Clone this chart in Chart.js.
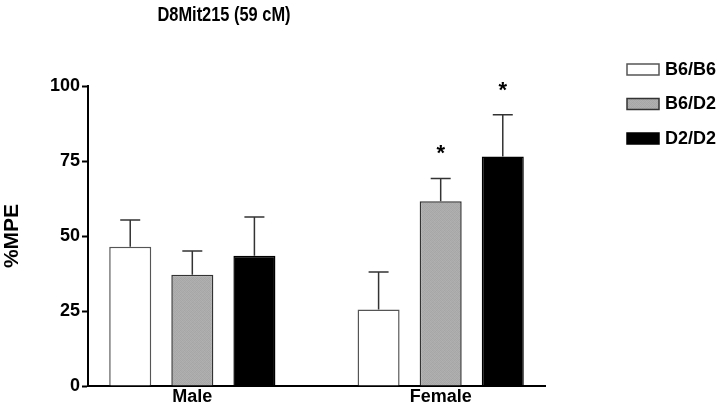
<!DOCTYPE html>
<html>
<head>
<meta charset="utf-8">
<script src="https://cdn.jsdelivr.net/npm/chart.js@4"></script>
<style>
html, body { margin: 0; padding: 0; background: #fff; }
</style>
</head>
<body>
<canvas id="chart" width="720" height="408"></canvas>
<script>
const title = 'D8Mit215 (59 cM)';
const axisTitle = '%MPE';
const categories = ['Male', 'Female'];
const genotypes = ['B6/B6', 'B6/D2', 'D2/D2'];
const yTicks = [0, 25, 50, 75, 100];

const b6b6Values = [46.4, 25.5];
const b6d2Values = [37.1, 61.6];
const d2d2Values = [43.4, 76.5];

const b6b6Errors = [8.9, 12.5];
const b6d2Errors = [7.9, 7.6];
const d2d2Errors = [12.9, 13.9];

const b6b6Marks = ['', ''];
const b6d2Marks = ['', '*'];
const d2d2Marks = ['', '*'];

const fontFamily = '"Liberation Sans", Arial, sans-serif';

function grayPattern() {
    const tile = document.createElement('canvas');
    tile.width = 4;
    tile.height = 4;
    const tctx = tile.getContext('2d');
    const shades = [
        '#a8a8a8', '#b0b0b0', '#a6a6a6', '#aeaeae',
        '#afafaf', '#a7a7a7', '#b1b1b1', '#a9a9a9',
        '#a5a5a5', '#adadad', '#aaaaaa', '#b0b0b0',
        '#b1b1b1', '#a8a8a8', '#aeaeae', '#a6a6a6'
    ];
    shades.forEach((shade, k) => {
        tctx.fillStyle = shade;
        tctx.fillRect(k % 4, Math.floor(k / 4), 1, 1);
    });
    return tctx.createPattern(tile, 'repeat');
}

function points(values) {
    return categories.map((c, i) => ({ x: i + 1, y: values[i] }));
}

const errorBars = {
    id: 'errorBars',
    afterDatasetsDraw(chart) {
        const ctx = chart.ctx;
        const yScale = chart.scales.y;
        chart.data.datasets.forEach((ds, di) => {
            const meta = chart.getDatasetMeta(di);
            meta.data.forEach((bar, i) => {
                const top = yScale.getPixelForValue(ds.data[i].y + ds.errors[i]);
                ctx.save();
                ctx.strokeStyle = '#333';
                ctx.lineWidth = 1.5;
                ctx.beginPath();
                ctx.moveTo(bar.x, bar.y);
                ctx.lineTo(bar.x, top);
                ctx.moveTo(bar.x - 10, top);
                ctx.lineTo(bar.x + 10, top);
                ctx.stroke();
                if (ds.marks[i]) {
                    ctx.fillStyle = '#000';
                    ctx.font = 'bold 22px ' + fontFamily;
                    ctx.textAlign = 'center';
                    ctx.textBaseline = 'middle';
                    ctx.fillText(ds.marks[i], bar.x, top - 24);
                }
                ctx.restore();
            });
        });
    }
};

// title and legend sit outside the plot box, so they are drawn by hand
const sideParts = {
    id: 'sideParts',
    afterDraw(chart) {
        const ctx = chart.ctx;
        ctx.save();
        ctx.fillStyle = '#000';
        ctx.font = 'bold 20px ' + fontFamily;
        ctx.textAlign = 'center';
        ctx.textBaseline = 'middle';
        ctx.translate(224, 15);
        ctx.scale(0.82, 1); // the original title face is a narrow one
        ctx.fillText(title, 0, 0);
        ctx.restore();

        ctx.save();
        ctx.textBaseline = 'middle';
        chart.data.datasets.forEach((ds, i) => {
            const top = 64 + i * 34.5;
            ctx.fillStyle = ds.backgroundColor;
            ctx.fillRect(627, top, 32, 11);
            ctx.strokeStyle = ds.borderColor;
            ctx.lineWidth = 1.5;
            ctx.strokeRect(627, top, 32, 11);
            ctx.fillStyle = '#000';
            ctx.font = 'bold 18px ' + fontFamily;
            ctx.textAlign = 'left';
            ctx.fillText(ds.label, 665, top + 6);
        });
        ctx.restore();
    }
};

function main() {
    const context = document.getElementById('chart').getContext('2d');
    const labelFont = { family: fontFamily, size: 18, weight: 'bold' };

    new Chart(context, {
        type: 'bar',
        data: {
            datasets: [
                {
                    label: genotypes[0],
                    data: points(b6b6Values),
                    errors: b6b6Errors,
                    marks: b6b6Marks,
                    backgroundColor: '#ffffff',
                    borderColor: '#555'
                },
                {
                    label: genotypes[1],
                    data: points(b6d2Values),
                    errors: b6d2Errors,
                    marks: b6d2Marks,
                    backgroundColor: grayPattern(),
                    borderColor: '#333'
                },
                {
                    label: genotypes[2],
                    data: points(d2d2Values),
                    errors: d2d2Errors,
                    marks: d2d2Marks,
                    backgroundColor: '#000000',
                    borderColor: '#000'
                }
            ]
        },
        options: {
            responsive: false,
            animation: false,
            layout: {
                padding: { top: 86, right: 175, left: 0, bottom: 0 }
            },
            datasets: {
                bar: {
                    categoryPercentage: 0.75,
                    barPercentage: 0.677,
                    borderWidth: 1.5
                }
            },
            plugins: {
                legend: { display: false },
                tooltip: { enabled: false }
            },
            scales: {
                x: {
                    type: 'linear',
                    offset: false,
                    bounds: 'data',
                    min: 0.58,
                    max: 2.42,
                    afterBuildTicks: scale => {
                        scale.ticks = categories.map((c, i) => ({ value: i + 1 }));
                    },
                    grid: { display: false, drawTicks: false, offset: false },
                    border: { display: true, color: '#000', width: 2 },
                    ticks: {
                        color: '#000',
                        font: { ...labelFont, lineHeight: 1 },
                        padding: 2,
                        maxRotation: 0,
                        callback: value => categories[value - 1]
                    }
                },
                y: {
                    min: 0,
                    max: 100,
                    afterBuildTicks: scale => {
                        scale.ticks = yTicks.map(v => ({ value: v }));
                    },
                    afterFit: scale => {
                        scale.width = 88;
                    },
                    border: { display: true, color: '#000', width: 2 },
                    grid: {
                        drawOnChartArea: false,
                        tickLength: 6,
                        tickColor: '#000',
                        tickWidth: 2
                    },
                    ticks: {
                        color: '#000',
                        font: labelFont,
                        padding: 2
                    },
                    title: {
                        display: true,
                        text: axisTitle,
                        color: '#000',
                        font: { family: fontFamily, size: 21, weight: 'bold' },
                        padding: { top: 0, bottom: 0 }
                    }
                }
            }
        },
        plugins: [errorBars, sideParts]
    });
}

document.addEventListener('DOMContentLoaded', main);
</script>
</body>
</html>
